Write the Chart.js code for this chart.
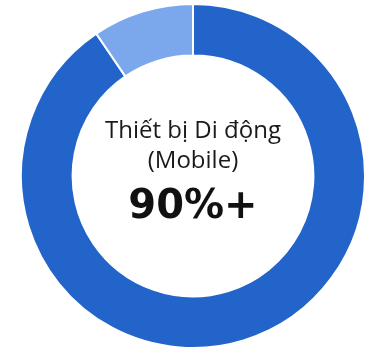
<!DOCTYPE html>
<html>
<head>
<meta charset="utf-8">
<script src="https://cdn.jsdelivr.net/npm/chart.js@4"></script>
<style>
  html, body { margin: 0; padding: 0; background: #fff; }
  #wrap { width: 371px; height: 351px; }
</style>
</head>
<body>
<div id="wrap"><canvas id="donut"></canvas></div>
<script>
// chart data
const categories = ['Thiết bị Di động (Mobile)', 'Khác'];
const shares = [90.5, 9.5];
const sliceColors = ['#2264C9', '#7BA8EC'];
const centerLines = ['Thiết bị Di động', '(Mobile)', '90%+'];

// draws the label in the hole of the donut
const centerText = {
  id: 'centerText',
  afterDraw(chart) {
    const arc = chart.getDatasetMeta(0).data[0];
    if (!arc) return;
    const ctx = chart.ctx;
    const x = arc.x, y = arc.y;
    ctx.save();
    ctx.textAlign = 'center';
    ctx.textBaseline = 'alphabetic';
    ctx.fillStyle = '#1a1a1a';
    ctx.font = '24px "Open Sans", Roboto, sans-serif';
    ctx.fillText(centerLines[0], x, y - 38);
    ctx.fillText(centerLines[1], x, y - 8);
    ctx.fillStyle = '#111';
    ctx.font = 'bold 40px "DejaVu Sans", sans-serif';
    ctx.fillText(centerLines[2], x, y + 42);
    ctx.restore();
  }
};

new Chart(document.getElementById('donut'), {
  type: 'doughnut',
  data: {
    labels: categories,
    datasets: [{
      data: shares,
      backgroundColor: sliceColors,
      borderColor: '#ffffff',
      borderWidth: 2,
    }]
  },
  options: {
    responsive: true,
    maintainAspectRatio: false,
    animation: false,
    cutout: '70%',
    layout: { padding: { left: 15, right: 0, top: 3, bottom: 2 } },
    plugins: {
      legend: { display: false },
      tooltip: { enabled: false }
    }
  },
  plugins: [centerText]
});
</script>
</body>
</html>
